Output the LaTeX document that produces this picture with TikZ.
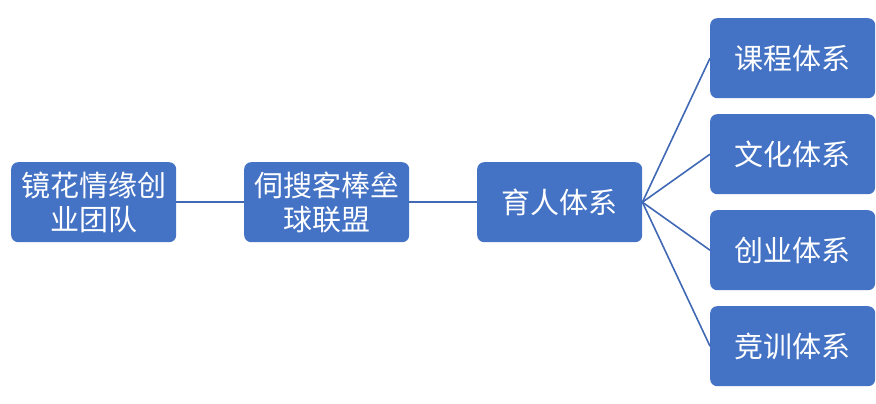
\documentclass[tikz,border=0pt]{standalone}
\usepackage{fontspec}
\newfontfamily\cjk{Noto Sans CJK SC}
\definecolor{boxblue}{HTML}{4472C4}
\definecolor{lineblue}{HTML}{4068B4}
\begin{document}
\begin{tikzpicture}[x=1pt,y=-1pt,
  box/.style={draw=none,fill=boxblue,rounded corners=7pt,minimum width=165pt,minimum height=80pt,inner sep=0pt,
    text=white,font=\cjk\fontsize{29}{34}\selectfont,align=center,anchor=north west},
  conn/.style={lineblue,line width=1.6pt}]
\useasboundingbox (0,0) rectangle (876,404);
\node[box] (a) at (11,162) {镜花情缘创\\业团队};
\node[box] (b) at (244,162) {伺搜客棒垒\\球联盟};
\node[box] (c) at (477,162) {育人体系};
\node[box] (d1) at (710,18) {课程体系};
\node[box] (d2) at (710,114) {文化体系};
\node[box] (d3) at (710,210) {创业体系};
\node[box] (d4) at (710,306) {竞训体系};
\draw[conn] (a.east) -- (b.west);
\draw[conn] (b.east) -- (c.west);
\foreach \i in {1,2,3,4}{\draw[conn] (c.east) -- (d\i.west);}
\end{tikzpicture}
\end{document}
